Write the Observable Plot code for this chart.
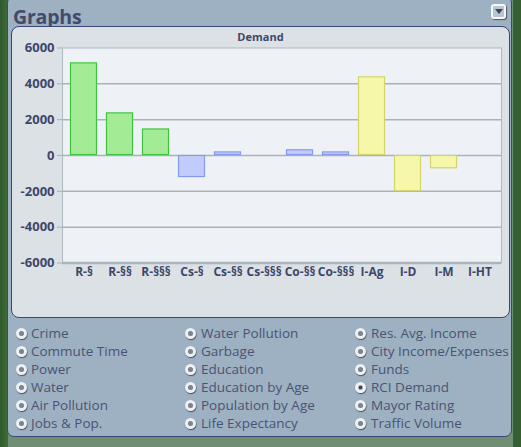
<!DOCTYPE html>
<html>
<head>
<meta charset="utf-8">
<script src="https://cdn.jsdelivr.net/npm/d3@7"></script>
<script src="https://cdn.jsdelivr.net/npm/@observablehq/plot@0.6"></script>
<style>
  html, body { margin: 0; padding: 0; }
  body { width: 521px; height: 447px; overflow: hidden; position: relative;
         background: linear-gradient(90deg, #2f5a2c 0, #3f6d3a 8px, #6f8f74 8px, #6f8f74 513px, #355f33 513px); font-family: "Open Sans", sans-serif; }
  #panel { position: absolute; left: 7px; top: -4px; width: 505px; height: 441px;
           background: #9db1c2; border: 1.5px solid #3b4679; border-radius: 7px; box-sizing: border-box; }
  #title { position: absolute; left: 13px; top: 3px; font: bold 19.5px "Open Sans", sans-serif; color: #434b6b; letter-spacing: -0.2px; }
  #btn { position: absolute; left: 491px; top: 4px; width: 15px; height: 15px; box-sizing: border-box;
         border: 2px solid #f4f6f8; border-radius: 3px; background: #b9c6d2; box-shadow: 1px 1px 1px #556; }
  #btn:after { content: ""; position: absolute; left: 2px; top: 3px; border-left: 4.5px solid transparent; border-right: 4.5px solid transparent; border-top: 5px solid #3b4360; }
  #chartbox { position: absolute; left: 11px; top: 26px; width: 499px; height: 292px; box-sizing: border-box;
              background: #dce1e6; border: 1.5px solid #3b4679; border-radius: 8px; }
  #ctitle { position: absolute; left: 0; width: 521px; top: 29px; text-align: center; font: bold 11px "Open Sans", sans-serif; color: #40486a; z-index: 2; }
  #plot { position: absolute; left: 0; top: 36px; z-index: 1; }
  .item { position: absolute; font: 13.5px "Open Sans", sans-serif; color: #4b5374; white-space: nowrap; line-height: 18px; }
  .radio { position: absolute; width: 11px; height: 11px; border-radius: 50%; box-sizing: border-box;
           border: 3px solid #eef1f4; background: #7d8794; box-shadow: 0.5px 1px 1px #4a5260, inset 0 0 1px #555; }
  .radio.sel { background: radial-gradient(circle, #3d4456 0 40%, #b9c2cc 60%); }
</style>
</head>
<body>
<div id="panel"></div>
<div id="title">Graphs</div>
<div id="btn"></div>
<div id="chartbox"></div>
<div id="plot"></div>
<div id="ctitle">Demand</div>
<div id="list"></div>
<script>
const categories = ["R-§", "R-§§", "R-§§§", "Cs-§", "Cs-§§", "Cs-§§§", "Co-§§", "Co-§§§", "I-Ag", "I-D", "I-M", "I-HT"];
const demand = [5170, 2380, 1480, -1230, 200, 0, 320, 200, 4390, -2020, -740, 0];
const groups = ["R", "R", "R", "C", "C", "C", "C", "C", "I", "I", "I", "I"];
const yTicks = [-6000, -4000, -2000, 0, 2000, 4000, 6000];
const graphOptions = [
  ["Crime", "Commute Time", "Power", "Water", "Air Pollution", "Jobs & Pop."],
  ["Water Pollution", "Garbage", "Education", "Education by Age", "Population by Age", "Life Expectancy"],
  ["Res. Avg. Income", "City Income/Expenses", "Funds", "RCI Demand", "Mayor Rating", "Traffic Volume"]
];
const selectedOption = "RCI Demand";

const fills = {R: "#a3ec95", C: "#c1cbfc", I: "#f7f7a9"};
const strokes = {R: "#3fc53f", C: "#8799ef", I: "#d3d36c"};

const data = categories.map((c, i) => ({cat: c, value: demand[i], group: groups[i]}));

const chart = Plot.plot({
  width: 512,
  height: 254,
  marginLeft: 62,
  marginRight: 11,
  marginTop: 11.5,
  marginBottom: 27.5,
  style: {fontFamily: "Open Sans", fontSize: "12px", fontWeight: "bold", background: "transparent", color: "#3e466a"},
  x: {domain: categories, paddingInner: 0.24, paddingOuter: 0.215, axis: null, label: null},
  y: {domain: [-6000, 6000], axis: null, label: null},
  marks: [
    Plot.frame({fill: "#eef2f7", stroke: "#aeb8c0", strokeWidth: 1}),
    Plot.ruleY(yTicks.slice(1, -1), {stroke: "#a8b2ba", strokeWidth: 1.5}),
    Plot.ruleX([0], {frameAnchor: "left", stroke: "#aab4bc", strokeWidth: 2.5}),
    Plot.ruleY([-6000], {stroke: "#aab4bc", strokeWidth: 2.5}),
    Plot.barY(data, {x: "cat", y: "value", fill: d => fills[d.group], stroke: d => strokes[d.group], strokeWidth: 1.2, inset: 0.5}),
    Plot.axisY({ticks: yTicks, tickSize: 5, tickPadding: 3, tickFormat: d => String(d), label: null, stroke: "#a8b2ba", fill: "#3e466a", fontSize: 13}),
    Plot.axisX({tickSize: 0, tickPadding: 4, label: null, fill: "#3e466a", fontSize: 12})
  ]
});
document.getElementById("plot").appendChild(chart);

const list = document.getElementById("list");
const colRadio = [21, 190, 360];
const colText = [31, 201, 371];
graphOptions.forEach((col, ci) => {
  col.forEach((name, ri) => {
    const cy = 333 + ri * 18;
    const r = document.createElement("div");
    r.className = "radio" + (name === selectedOption ? " sel" : "");
    r.style.left = (colRadio[ci] - 5.5) + "px";
    r.style.top = (cy - 5.5) + "px";
    list.appendChild(r);
    const t = document.createElement("div");
    t.className = "item";
    t.textContent = name;
    t.style.left = colText[ci] + "px";
    t.style.top = (cy - 9) + "px";
    list.appendChild(t);
  });
});
</script>
</body>
</html>
